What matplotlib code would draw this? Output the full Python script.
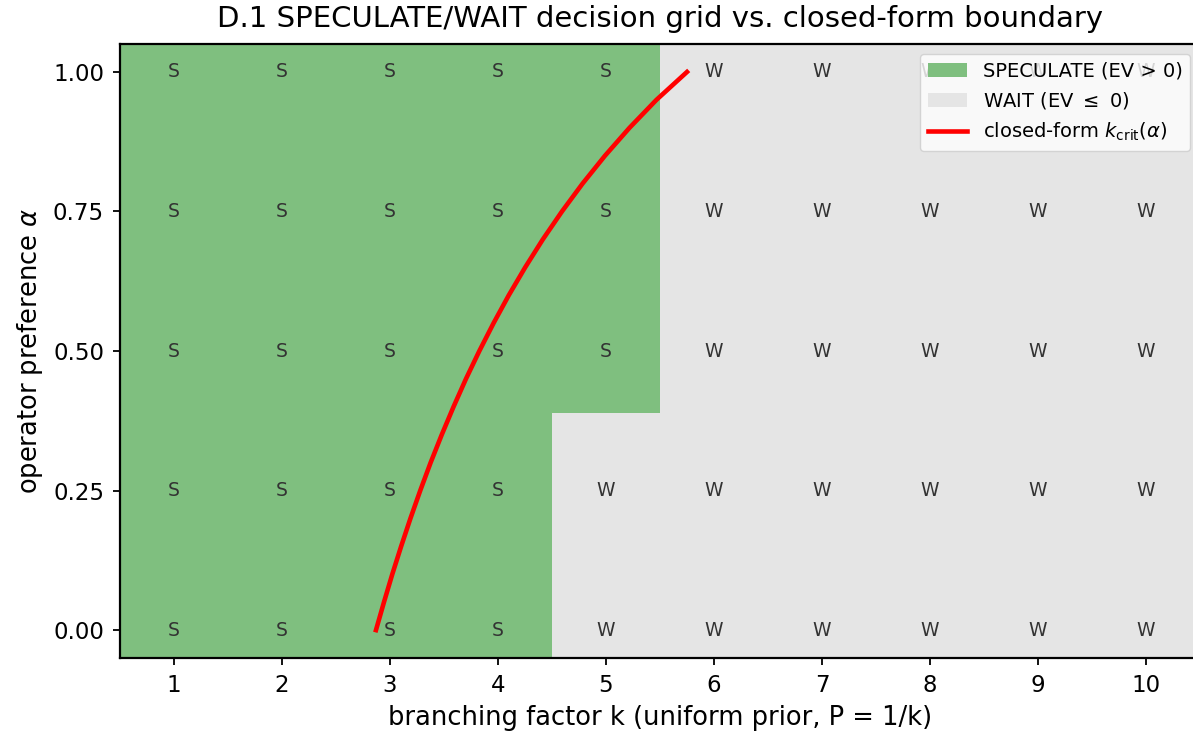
import numpy as np
import matplotlib
matplotlib.use("Agg")
import matplotlib.pyplot as plt
from matplotlib.colors import ListedColormap
from matplotlib.patches import Patch
from matplotlib.lines import Line2D

# grid axes
k_vals = [1, 2, 3, 4, 5, 6, 7, 8, 9, 10]
alpha_vals = [0.0, 0.25, 0.5, 0.75, 1.0]
# 1 = SPECULATE, 0 = WAIT (rows follow alpha_vals)
decision = [
    [1, 1, 1, 1, 0, 0, 0, 0, 0, 0],
    [1, 1, 1, 1, 0, 0, 0, 0, 0, 0],
    [1, 1, 1, 1, 1, 0, 0, 0, 0, 0],
    [1, 1, 1, 1, 1, 0, 0, 0, 0, 0],
    [1, 1, 1, 1, 1, 0, 0, 0, 0, 0],
]
# closed-form boundary
curve_alpha = [0.00, 0.05, 0.10, 0.15, 0.20, 0.25, 0.30, 0.35, 0.40, 0.45,
               0.50, 0.55, 0.60, 0.65, 0.70, 0.75, 0.80, 0.85, 0.90, 0.95,
               1.00]
curve_k = [2.870, 2.944, 3.021, 3.103, 3.189, 3.280, 3.376, 3.479, 3.588,
           3.703, 3.827, 3.959, 4.100, 4.252, 4.415, 4.592, 4.783, 4.991,
           5.218, 5.467, 5.750]

fig = plt.figure(figsize=(11.93, 7.34), dpi=100)
# the reference is cropped: the right spine sits just past the image edge
ax = fig.add_axes([120 / 1193, 0.1035, 1080 / 1193, 0.8365])

grid = np.array(decision)
cmap = ListedColormap(["#e5e5e5", "#7fbf7f"])
ax.imshow(grid, origin="lower", aspect="auto", cmap=cmap, vmin=0, vmax=1,
          extent=[0.5, 10.5, -0.05, 1.05], interpolation="nearest")

for i, a in enumerate(alpha_vals):
    for j, k in enumerate(k_vals):
        ax.text(k, a, "S" if grid[i, j] else "W", ha="center", va="center",
                fontsize=13.5, color="#333333")

ax.plot(curve_k, curve_alpha, color="red", lw=3.3)

ax.set_xlim(0.5, 10.5)
ax.set_ylim(-0.05, 1.05)
ax.set_xticks(k_vals)
ax.set_yticks(alpha_vals)
ax.tick_params(labelsize=16.5, width=1.3, length=5, pad=6.5)
for s in ax.spines.values():
    s.set_linewidth(1.6)
ax.set_xlabel("branching factor k (uniform prior, P = 1/k)", fontsize=18.5,
              labelpad=6)
ax.set_ylabel(r"operator preference $\alpha$", fontsize=18.5, labelpad=6)
ax.set_title("D.1 SPECULATE/WAIT decision grid vs. closed-form boundary",
             fontsize=21, pad=12)

handles = [
    Patch(facecolor="#7fbf7f", label="SPECULATE (EV > 0)"),
    Patch(facecolor="#e5e5e5", label=r"WAIT (EV $\leq$ 0)"),
    Line2D([], [], color="red", lw=3.3, label=r"closed-form $k_{\mathrm{crit}}(\alpha)$"),
]
ax.legend(handles=handles, loc="upper right", fontsize=14)

fig.savefig("out.png", dpi=100)
